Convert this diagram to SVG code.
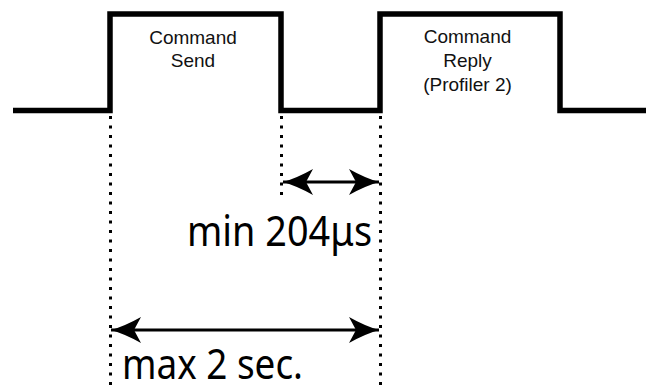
<svg xmlns="http://www.w3.org/2000/svg" width="650" height="385" viewBox="0 0 650 385">
  <style>
    .wave { fill: none; stroke: #000; stroke-width: 5.5; stroke-linejoin: miter; }
    .dot { fill: none; stroke: #000; stroke-width: 3; stroke-dasharray: 3 6.5; }
    .arr { fill: none; stroke: #000; stroke-width: 3; marker-start: url(#head); marker-end: url(#head); }
    .lbl { font-family: "Liberation Sans", Arial, sans-serif; font-size: 19px; fill: #111; text-anchor: middle; }
    .big { font-family: "Noto Sans", "Open Sans", sans-serif; font-size: 41px; fill: #000; }
  </style>
  <defs>
    <marker id="head" markerUnits="userSpaceOnUse" markerWidth="32" markerHeight="30" viewBox="-31 -15 32 30" refX="0" refY="0" orient="auto-start-reverse">
      <path d="M0,0 Q-14,-4 -30,-13 L-23,0 L-30,13 Q-14,4 0,0 Z" fill="#000"/>
    </marker>
  </defs>
  <g id="connectors">
    <path class="wave" d="M13,110.5 H110 V14 H281 V110.5 H380 V14 H560 V110.5 H646"/>
    <line class="dot" x1="110.5" y1="116" x2="110.5" y2="385"/>
    <line class="dot" x1="281.5" y1="116" x2="281.5" y2="201"/>
    <line class="dot" x1="380.5" y1="116" x2="380.5" y2="385"/>
    <line class="arr" x1="283" y1="182" x2="379" y2="182"/>
    <line class="arr" x1="111" y1="330" x2="379" y2="330"/>
  </g>
  <g id="command-send">
    <text class="lbl" x="193" y="44">Command</text>
    <text class="lbl" x="193" y="67">Send</text>
  </g>
  <g id="command-reply">
    <text class="lbl" x="467.5" y="43">Command</text>
    <text class="lbl" x="467.5" y="67">Reply</text>
    <text class="lbl" x="467.5" y="91">(Profiler 2)</text>
  </g>
  <g id="min-label">
    <text class="big" x="187" y="246" textLength="185" lengthAdjust="spacingAndGlyphs">min 204μs</text>
  </g>
  <g id="max-label">
    <text class="big" x="122" y="379" textLength="181" lengthAdjust="spacingAndGlyphs">max 2 sec.</text>
  </g>
</svg>
